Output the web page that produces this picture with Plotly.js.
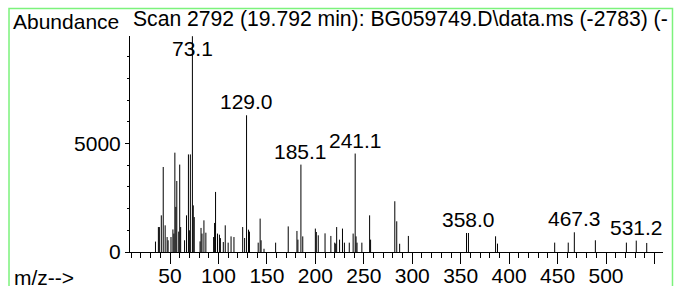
<!DOCTYPE html>
<html>
<head>
<meta charset="utf-8">
<script src="https://cdn.plot.ly/plotly-3.0.1.min.js"></script>
<style>
  html, body { margin: 0; padding: 0; background: #fff; }
  #chart { width: 677px; height: 286px; }
</style>
</head>
<body>
<div id="chart"></div>
<script>
// ---- data ----
const mz = [
  35, 38, 39, 41, 43, 45, 47, 48, 51, 53, 54, 55, 56, 57, 59, 60, 61, 65, 67, 69,
  70, 71, 73.1, 74, 75, 81, 82, 83, 85, 87, 95, 96, 97, 99, 101, 102, 105, 107, 110, 113,
  116, 125, 127, 129.0, 131, 132, 141, 143, 144, 147, 159, 172, 181, 182, 185.1, 187, 200, 201, 203, 210,
  216, 220, 221, 222, 225, 228, 230, 235, 239, 241.1, 242, 243, 248, 256, 257, 282, 284, 287, 296,
  356, 358.0, 386, 388, 447, 461, 467.3, 489, 521, 531.2, 542
];
const abundance = [
  480, 1150, 1150, 1690, 3920, 1230, 690, 540, 690, 1040, 850, 4580, 2080, 3275, 940, 4030, 1150, 540, 1690, 4500,
  1000, 4500, 9950, 2150, 1610, 490, 1110, 850, 1460, 890, 690, 1340, 2770, 850, 800, 640, 460, 1230, 430, 720,
  690, 1150, 646, 6305, 1030, 940, 430, 1540, 540, 150, 430, 1180, 970, 570, 4030, 720, 1080, 923, 770, 860,
  740, 432, 385, 1150, 570, 1080, 430, 430, 850, 4540, 720, 430, 430, 1690, 570, 2340, 1415, 380, 740,
  876, 876, 724, 387, 433, 433, 909, 540, 433, 525, 416
];
const labeledPeaks = [73.1, 129.0, 185.1, 241.1, 358.0, 467.3, 531.2];
const xTickVals = [50, 100, 150, 200, 250, 300, 350, 400, 450, 500, 550];
const xTickText = ["50", "100", "150", "200", "250", "300", "350", "400", "450", "500", ""];
const yTickVals = [0, 5000];
const yTickText = ["0", "5000"];
const titleText = "Scan 2792 (19.792 min): BG059749.D\\data.ms (-2783) (-";
const yLabel = "Abundance";
const xLabel = "m/z-->";

// ---- build stick spectrum ----
const xs = [], ys = [];
mz.forEach((m, i) => { xs.push(m, m, null); ys.push(0, abundance[i], null); });

const FONT = "Liberation Sans, Arial, sans-serif";
const XRANGE = [8.7, 558.8];
const YMAX = 9960;
const LABEL_CAP = 8780; // keep the top label under the title line

const annotations = labeledPeaks.map(p => {
  const v = abundance[mz.indexOf(p)];
  return {
    x: p, y: Math.min(v, LABEL_CAP), xref: 'x', yref: 'y',
    text: p.toFixed(1), showarrow: false, xanchor: 'center', yanchor: 'bottom',
    font: {family: FONT, size: 21, color: '#000'}
  };
});
annotations.push(
  {x: 0.001, y: 1.0116, xref: 'paper', yref: 'paper', text: titleText, showarrow: false,
   xanchor: 'left', yanchor: 'bottom', font: {family: FONT, size: 21.15, color: '#000'}},
  {x: -0.2238, y: 1.004, xref: 'paper', yref: 'paper', text: yLabel, showarrow: false,
   xanchor: 'left', yanchor: 'bottom', font: {family: FONT, size: 21, color: '#000'}},
  {x: -0.222, y: -0.18, xref: 'paper', yref: 'paper', text: xLabel, showarrow: false,
   xanchor: 'left', yanchor: 'bottom', font: {family: FONT, size: 21, color: '#000'}}
);

const trace = {
  x: xs, y: ys, type: 'scatter', mode: 'lines', connectgaps: false,
  line: {color: '#000', width: 1, simplify: false}, hoverinfo: 'skip'
};
// helper trace so the overlay axis carrying the long major ticks is drawn
const tickTrace = {
  x: [XRANGE[0]], y: [0], xaxis: 'x2', yaxis: 'y', type: 'scatter', mode: 'markers',
  marker: {opacity: 0}, hoverinfo: 'skip'
};

const layout = {
  width: 677, height: 286,
  margin: {l: 130, r: 14, t: 36, b: 34, pad: 0},
  paper_bgcolor: '#fff', plot_bgcolor: '#fff',
  showlegend: false,
  font: {family: FONT, size: 21, color: '#000'},
  xaxis: {
    range: XRANGE, showgrid: false, zeroline: false,
    showline: true, linecolor: '#000', linewidth: 1,
    tickmode: 'array', tickvals: xTickVals, ticktext: xTickText,
    ticks: 'outside', ticklen: 5, tickcolor: '#000', tickwidth: 1,
    tickfont: {family: FONT, size: 21, color: '#000'},
    minor: {tick0: 0, dtick: 10, ticks: 'outside', ticklen: 5, tickcolor: '#000', tickwidth: 1, showgrid: false},
    fixedrange: true
  },
  xaxis2: {
    range: XRANGE, overlaying: 'x', anchor: 'y', side: 'bottom',
    showgrid: false, zeroline: false, showline: false,
    tickmode: 'array', tickvals: xTickVals, showticklabels: false,
    ticks: 'outside', ticklen: 11, tickcolor: '#000', tickwidth: 1,
    fixedrange: true
  },
  yaxis: {
    range: [0, YMAX], showgrid: false, zeroline: false,
    showline: true, linecolor: '#000', linewidth: 1,
    tickmode: 'array', tickvals: yTickVals, ticktext: yTickText,
    ticks: 'outside', ticklen: 4, tickcolor: '#000', tickwidth: 1,
    tickfont: {family: FONT, size: 21, color: '#000'},
    minor: {tick0: 0, dtick: 1000, ticks: 'outside', ticklen: 2, tickcolor: '#000', tickwidth: 1, showgrid: false},
    fixedrange: true
  },
  annotations: annotations,
  shapes: [{
    type: 'rect', xref: 'paper', yref: 'paper',
    x0: -0.227, x1: 1.0178, y0: -0.2, y1: 1.1273,
    line: {color: '#7cf27c', width: 1.5}, fillcolor: 'rgba(0,0,0,0)', layer: 'above'
  }]
};

Plotly.newPlot('chart', [trace, tickTrace], layout, {staticPlot: true, displayModeBar: false});
</script>
</body>
</html>
